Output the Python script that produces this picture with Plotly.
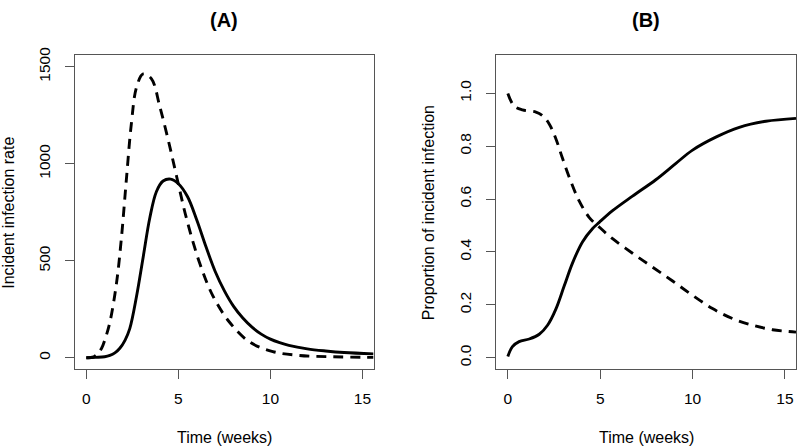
import plotly.graph_objects as go

# ---- Panel A: incident infection rate ----
a_solid_t = [0, 0.5, 1.0, 1.28, 1.55, 1.82, 2.1, 2.36, 2.73, 3.09, 3.45, 3.81, 4.17, 4.58,
             5.0, 5.5, 6.0, 6.5, 7.0, 7.5, 8.0, 8.5, 9.0, 9.5, 10.0, 10.5, 11.0, 12.0, 13.0, 14.0, 15.6]
a_solid_y = [0, 2, 5, 12, 25, 49, 90, 150, 318, 520, 722, 857, 911, 921,
             897, 830, 710, 572, 445, 345, 265, 205, 158, 122, 96, 78, 64, 46, 35, 27, 20]

a_dash_t = [0, 0.4, 0.6, 0.83, 1.05, 1.28, 1.64, 1.91, 2.18, 2.45, 2.73, 3.09, 3.54,
            3.99, 4.44, 4.89, 5.43, 6.16, 6.88, 7.78, 8.86, 10.13, 11.57, 13.38, 15.6]
a_dash_y = [0, 5, 20, 49, 105, 183, 385, 621, 924, 1210, 1396, 1463, 1438,
            1295, 1126, 941, 722, 487, 318, 183, 82, 32, 12, 5, 2]

# ---- Panel B: proportion of incident infection ----
b_solid_t = [0, 0.25, 0.61, 1.16, 1.70, 2.15, 2.60, 3.05, 3.50, 4.04, 4.58, 4.95, 5.67,
             6.75, 8.01, 9.10, 10.0, 11.26, 12.53, 13.97, 15.6]
b_solid_y = [0.005, 0.042, 0.061, 0.071, 0.089, 0.123, 0.184, 0.271, 0.358, 0.438, 0.488,
             0.512, 0.556, 0.611, 0.673, 0.735, 0.785, 0.834, 0.871, 0.894, 0.905]

b_dash_t = [0, 0.34, 0.79, 1.52, 1.88, 2.24, 2.60, 2.96, 3.41, 3.86, 4.40, 4.95, 5.67,
            6.75, 7.83, 8.92, 10.0, 11.08, 12.17, 13.25, 14.33, 15.6]
b_dash_y = [0.999, 0.952, 0.937, 0.929, 0.915, 0.884, 0.828, 0.754, 0.667, 0.593, 0.531,
            0.494, 0.450, 0.395, 0.343, 0.290, 0.236, 0.186, 0.148, 0.123, 0.106, 0.097]

x_ticks = [0, 5, 10, 15]
a_y_ticks = [0, 500, 1000, 1500]
b_y_ticks = [0.0, 0.2, 0.4, 0.6, 0.8, 1.0]

W, H = 797, 447
FONT = "Liberation Sans, Arial, Helvetica, sans-serif"

fig = go.Figure()
solid = dict(color="black", width=2.9)
dashed = dict(color="black", width=2.9, dash="10px,7px")

fig.add_trace(go.Scatter(x=a_solid_t, y=a_solid_y, mode="lines", line=dict(**solid, shape="spline", smoothing=1.0),
                         xaxis="x", yaxis="y", showlegend=False, hoverinfo="skip"))
fig.add_trace(go.Scatter(x=a_dash_t, y=a_dash_y, mode="lines", line=dict(**dashed, shape="spline", smoothing=1.0),
                         xaxis="x", yaxis="y", showlegend=False, hoverinfo="skip"))
fig.add_trace(go.Scatter(x=b_solid_t, y=b_solid_y, mode="lines", line=dict(**solid, shape="spline", smoothing=1.0),
                         xaxis="x2", yaxis="y2", showlegend=False, hoverinfo="skip"))
fig.add_trace(go.Scatter(x=b_dash_t, y=b_dash_y, mode="lines", line=dict(**dashed, shape="spline", smoothing=1.0),
                         xaxis="x2", yaxis="y2", showlegend=False, hoverinfo="skip"))

def px_x(p):
    return p / W

def px_y(p):
    return (H - p) / H

ydom = [px_y(368), px_y(48)]
axis_common = dict(showgrid=False, zeroline=False, showline=True, linecolor="#555", linewidth=1,
                   mirror=True, ticks="outside", ticklen=9, tickcolor="#555", tickwidth=1,
                   tickfont=dict(family=FONT, size=15.5, color="black"))

fig.update_layout(
    width=W, height=H, margin=dict(l=0, r=0, t=0, b=0),
    paper_bgcolor="white", plot_bgcolor="white",
    xaxis=dict(domain=[px_x(75), px_x(374)], range=[-0.62, 15.6], tickvals=x_ticks,
               anchor="y", ticklabelstandoff=6, **axis_common),
    yaxis=dict(domain=ydom, range=[-60, 1560], tickvals=a_y_ticks, tickangle=-90,
               anchor="x", ticklabelstandoff=9, **axis_common),
    xaxis2=dict(domain=[px_x(497), px_x(797)], range=[-0.62, 15.6], tickvals=x_ticks,
                anchor="y2", ticklabelstandoff=6, **axis_common),
    yaxis2=dict(domain=ydom, range=[-0.044, 1.144], tickvals=b_y_ticks, tickformat=".1f",
                tickangle=-90, anchor="x2", ticklabelstandoff=9, **axis_common),
)

def ann(text, xp, yp, size=16, bold=False, angle=0):
    fig.add_annotation(text=f"<b>{text}</b>" if bold else text, x=px_x(xp), y=px_y(yp),
                       xref="paper", yref="paper", showarrow=False, textangle=angle,
                       xanchor="center", yanchor="middle",
                       font=dict(family=FONT, size=size, color="black"))

ann("(A)", 224.5, 12, size=20, bold=True)
ann("(B)", 647, 12, size=20, bold=True)
ann("Time (weeks)", 224.5, 437)
ann("Time (weeks)", 647, 437)
ann("Incident infection rate", 8.5, 208, angle=-90)
ann("Proportion of incident infection", 428.5, 208, angle=-90)

fig.write_html("out.html", config={"displayModeBar": False},
               post_script="document.body.style.margin='0';document.body.style.padding='0';")
